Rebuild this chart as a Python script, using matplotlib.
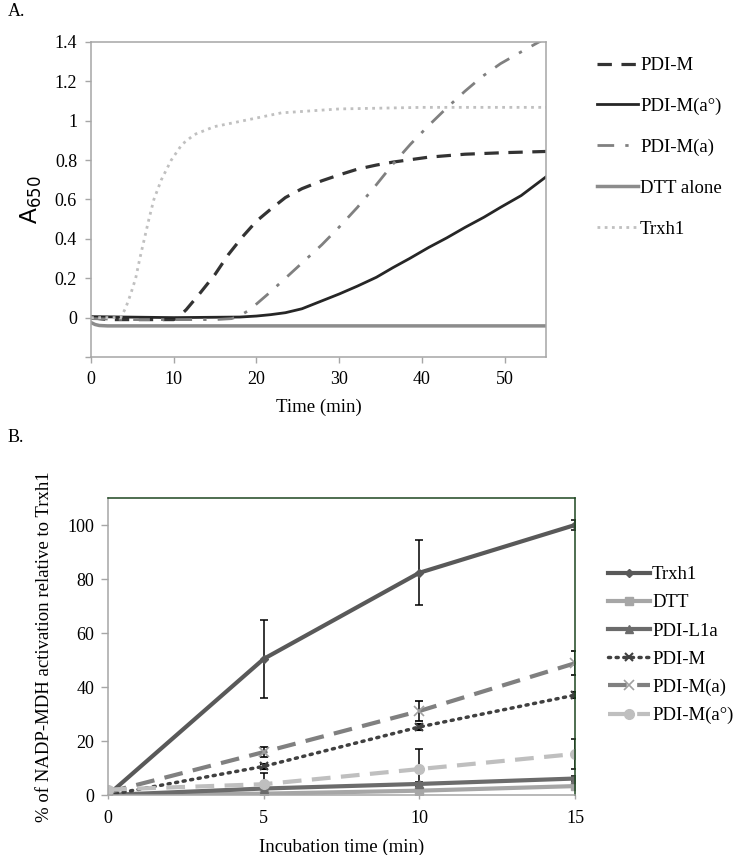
import matplotlib
matplotlib.use("Agg")
import matplotlib.pyplot as plt
from matplotlib.ticker import FixedLocator, FixedFormatter

plt.rcParams['font.family'] = ['Liberation Serif', 'DejaVu Serif']

# ---------------- Panel A data ----------------
pdim_t = [0, 2, 10, 10.5, 11.5, 13.1, 15, 16.6, 18.3, 20, 21.7, 23.5, 25.5, 27.9, 30, 32.2, 34.5, 36.5, 40.8, 45.2, 50, 55]
pdim_v = [0.0, -0.01, -0.01, 0.0, 0.04, 0.12, 0.22, 0.32, 0.41, 0.49, 0.55, 0.61, 0.655, 0.695, 0.725, 0.754, 0.775, 0.79, 0.815, 0.83, 0.838, 0.844]

pdima0_t = [0, 10, 18, 20, 21.7, 23.5, 25.5, 27.9, 30, 32.2, 34.5, 36.5, 38.5, 40.8, 43, 45.2, 47.5, 49.5, 52, 55]
pdima0_v = [0.005, 0.0, 0.003, 0.008, 0.015, 0.025, 0.045, 0.085, 0.12, 0.16, 0.205, 0.254, 0.3, 0.356, 0.405, 0.458, 0.51, 0.56, 0.62, 0.715]

pdima_t = [0, 5, 15, 17, 18, 19.2, 20.3, 21.4, 23.5, 25.7, 27.9, 30, 32.2, 34.3, 36.5, 38.6, 40.8, 43, 45.2, 47.3, 49.5, 52, 55]
pdima_v = [-0.005, -0.01, -0.01, -0.005, 0.01, 0.04, 0.08, 0.12, 0.2, 0.285, 0.37, 0.46, 0.56, 0.665, 0.78, 0.88, 0.975, 1.065, 1.15, 1.225, 1.29, 1.35, 1.42]

dtt_t = [0, 0.5, 1, 2, 55]
dtt_v = [-0.025, -0.035, -0.04, -0.042, -0.042]

trx_t = [0, 3.6, 4.2, 4.8, 5.4, 5.9, 6.45, 7.0, 7.6, 8.5, 9.7, 11, 12.5, 14.9, 18.4, 23, 30, 40, 55]
trx_v = [0.0, 0.0, 0.05, 0.12, 0.2, 0.3, 0.4, 0.5, 0.6, 0.7, 0.8, 0.88, 0.93, 0.97, 1.0, 1.04, 1.06, 1.068, 1.068]

a_labels = ['PDI-M', 'PDI-M(a°)', 'PDI-M(a)', 'DTT alone', 'Trxh1']
a_yticks = [-0.2, 0, 0.2, 0.4, 0.6, 0.8, 1.0, 1.2, 1.4]
a_yticklabels = ["", "0", "0.2", "0.4", "0.6", "0.8", "1", "1.2", "1.4"]
a_xticks = [0, 10, 20, 30, 40, 50]

# ---------------- Panel B data ----------------
b_labels = ['Trxh1', 'DTT', 'PDI-L1a', 'PDI-M', 'PDI-M(a)', 'PDI-M(a°)']
b_time = [0, 5, 10, 15]
b_trx = [0, 50.4, 82.3, 100]
b_trx_err = [0, 14.6, 12, 1.9]
b_dtt = [0, 0.5, 1.6, 3.3]
b_dtt_err = [0, 0.3, 0.5, 0.8]
b_l1a = [0, 2.4, 4.1, 6.1]
b_l1a_err = [0, 0.4, 0.6, 0.8]
b_pdim = [0, 10.6, 25.2, 37.0]
b_pdim_err = [0, 0.8, 1.0, 1.0]
b_pdima = [1.0, 15.9, 31.1, 48.8]
b_pdima_err = [0, 1.8, 3.8, 4.4]
b_pdima0 = [2.0, 4.0, 9.6, 15.2]
b_pdima0_err = [0, 4.0, 7.5, 5.4]

fig = plt.figure(figsize=(7.36, 8.55), dpi=100)
W, H = 736.0, 855.0

def rect(x0, y0, x1, y1):
    return [x0 / W, 1 - y1 / H, (x1 - x0) / W, (y1 - y0) / H]

FS = 13
LFS = 13.5
spine_gray = '#a6a6a6'

# ---------------- Panel A ----------------
ax1 = fig.add_axes(rect(91, 42, 546, 357))
l1, = ax1.plot(pdim_t, pdim_v, color='#333333', lw=2.3, dashes=(4.5, 3))
l2, = ax1.plot(pdima0_t, pdima0_v, color='#262626', lw=2.0)
l3, = ax1.plot(pdima_t, pdima_v, color='#808080', lw=2.0, dashes=(6, 4, 1.2, 4))
l4, = ax1.plot(dtt_t, dtt_v, color='#8c8c8c', lw=2.5)
l5, = ax1.plot(trx_t, trx_v, color='#c0c0c0', lw=2.0, dashes=(1, 1.6))
ax1.set_xlim(0, 55)
ax1.set_ylim(-0.2, 1.4)
ax1.yaxis.set_major_locator(FixedLocator(a_yticks))
ax1.yaxis.set_major_formatter(FixedFormatter(a_yticklabels))
ax1.set_xticks(a_xticks)
for s in ax1.spines.values():
    s.set_color(spine_gray)
    s.set_linewidth(1.1)
ax1.tick_params(axis='both', direction='out', length=4, width=1, color=spine_gray,
                labelsize=FS, pad=6)
ax1.set_xlabel('Time (min)', fontsize=LFS, labelpad=8)
ax1.set_ylabel('A$_{650}$', fontsize=17, family=['Liberation Sans', 'DejaVu Sans'], labelpad=8)
fig.legend([l1, l2, l3, l4, l5], a_labels, loc='upper left', bbox_to_anchor=(597 / W, 1 - 57 / H),
           frameon=False, fontsize=LFS, handlelength=2.2, handletextpad=0.1,
           labelspacing=1.26, borderaxespad=0, borderpad=0)
fig.text(8 / W, 1 - 12 / H, 'A.', fontsize=FS, va='center', ha='left')

# ---------------- Panel B ----------------
ax2 = fig.add_axes(rect(108, 498, 575, 795))
ekw = dict(ecolor='black', elinewidth=1.1, capsize=3, capthick=1.1)
h1 = ax2.errorbar(b_time, b_trx, yerr=b_trx_err, color='#595959', lw=3, marker='D', ms=4, **ekw)
h2 = ax2.errorbar(b_time, b_dtt, yerr=b_dtt_err, color='#a6a6a6', lw=3, marker='s', ms=6, **ekw)
h3 = ax2.errorbar(b_time, b_l1a, yerr=b_l1a_err, color='#6b6b6b', lw=3, marker='^', ms=6, **ekw)
h4 = ax2.errorbar(b_time, b_pdim, yerr=b_pdim_err, color='#404040', lw=2.5, ls=(0, (0.6, 1.6)),
                  dash_capstyle='round', marker='x', ms=6, mew=1.5, **ekw)
h5 = ax2.errorbar(b_time, b_pdima, yerr=b_pdima_err, color='#808080', lw=3, dashes=(4.5, 2.5),
                  marker='x', ms=7, mew=1.2, mec='#a0a0a0', **ekw)
h6 = ax2.errorbar(b_time, b_pdima0, yerr=b_pdima0_err, color='#bfbfbf', lw=3, dashes=(4.5, 2.5),
                  marker='o', ms=7, **ekw)
for h in (h1, h2, h3, h4, h5, h6):
    for c in h[1]:
        c.set_zorder(1)
ax2.set_xlim(0, 15)
ax2.set_ylim(0, 110)
ax2.set_xticks(b_time)
ax2.set_yticks([0, 20, 40, 60, 80, 100])
ax2.spines['left'].set_color(spine_gray)
ax2.spines['bottom'].set_color(spine_gray)
ax2.spines['top'].set_color('#1e4620')
ax2.spines['right'].set_color('#1e4620')
for s in ax2.spines.values():
    s.set_linewidth(1.1)
ax2.tick_params(axis='y', direction='out', length=5, width=1, color=spine_gray, labelsize=FS, pad=5)
ax2.tick_params(axis='x', direction='out', length=3, width=1, color=spine_gray, labelsize=FS, pad=8)
ax2.set_xlabel('Incubation time (min)', fontsize=LFS, labelpad=8)
ax2.set_ylabel('% of NADP-MDH activation relative to Trxh1', fontsize=LFS, labelpad=10)
fig.legend([h[0] for h in (h1, h2, h3, h4, h5, h6)], b_labels, loc='upper left',
           bbox_to_anchor=(608 / W, 1 - 566 / H),
           frameon=False, fontsize=LFS, handlelength=2.25, handletextpad=0.1,
           labelspacing=0.59, borderaxespad=0, borderpad=0)
fig.text(8 / W, 1 - 437 / H, 'B.', fontsize=FS, va='center', ha='left')

fig.savefig('out.png', dpi=100)
